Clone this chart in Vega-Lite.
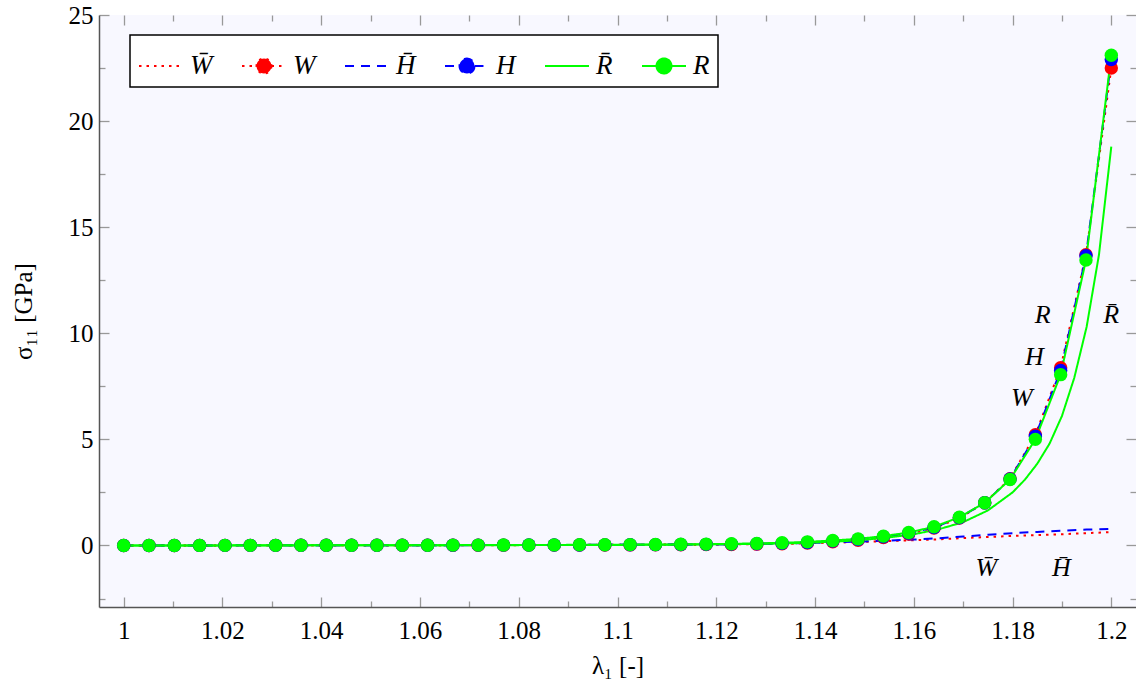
{
  "$schema": "https://vega.github.io/schema/vega-lite/v6.json",
  "width": 1037,
  "height": 592,
  "autosize": {"type": "none"},
  "padding": {"left": 99, "top": 15, "right": 0, "bottom": 86},
  "background": "white",
  "config": {
    "view": {"fill": "#f8f8ff", "stroke": null},
    "font": "Liberation Serif",
    "legend": {
      "orient": "none",
      "legendX": 31,
      "legendY": 20,
      "direction": "horizontal",
      "title": null,
      "labelFont": "Liberation Serif",
      "labelFontSize": 27,
      "labelFontStyle": "italic",
      "labelColor": "black",
      "symbolSize": 1936,
      "symbolStrokeWidth": 2,
      "labelOffset": 6,
      "columnPadding": 25,
      "padding": 8,
      "strokeColor": "black",
      "fillColor": "white",
      "cornerRadius": 0
    }
  },
  "datasets": {
    "main": [
      {"lam": 1, "sig": 0, "series": "W̄"},
      {"lam": 1.01, "sig": 0.002, "series": "W̄"},
      {"lam": 1.02, "sig": 0.004, "series": "W̄"},
      {"lam": 1.03, "sig": 0.006, "series": "W̄"},
      {"lam": 1.04, "sig": 0.008, "series": "W̄"},
      {"lam": 1.05, "sig": 0.01, "series": "W̄"},
      {"lam": 1.06, "sig": 0.013, "series": "W̄"},
      {"lam": 1.07, "sig": 0.017, "series": "W̄"},
      {"lam": 1.08, "sig": 0.021, "series": "W̄"},
      {"lam": 1.09, "sig": 0.026, "series": "W̄"},
      {"lam": 1.1, "sig": 0.033, "series": "W̄"},
      {"lam": 1.11, "sig": 0.042, "series": "W̄"},
      {"lam": 1.12, "sig": 0.055, "series": "W̄"},
      {"lam": 1.125, "sig": 0.065, "series": "W̄"},
      {"lam": 1.13, "sig": 0.078, "series": "W̄"},
      {"lam": 1.135, "sig": 0.095, "series": "W̄"},
      {"lam": 1.14, "sig": 0.115, "series": "W̄"},
      {"lam": 1.145, "sig": 0.14, "series": "W̄"},
      {"lam": 1.15, "sig": 0.17, "series": "W̄"},
      {"lam": 1.155, "sig": 0.21, "series": "W̄"},
      {"lam": 1.16, "sig": 0.25, "series": "W̄"},
      {"lam": 1.165, "sig": 0.29, "series": "W̄"},
      {"lam": 1.17, "sig": 0.35, "series": "W̄"},
      {"lam": 1.175, "sig": 0.4, "series": "W̄"},
      {"lam": 1.18, "sig": 0.45, "series": "W̄"},
      {"lam": 1.185, "sig": 0.49, "series": "W̄"},
      {"lam": 1.19, "sig": 0.53, "series": "W̄"},
      {"lam": 1.195, "sig": 0.58, "series": "W̄"},
      {"lam": 1.2, "sig": 0.63, "series": "W̄"},

      {"lam": 1, "sig": 0, "series": "W"},
      {"lam": 1.00513, "sig": 0.001, "series": "W"},
      {"lam": 1.01026, "sig": 0.002, "series": "W"},
      {"lam": 1.01538, "sig": 0.003, "series": "W"},
      {"lam": 1.02051, "sig": 0.004, "series": "W"},
      {"lam": 1.02564, "sig": 0.005, "series": "W"},
      {"lam": 1.03077, "sig": 0.006, "series": "W"},
      {"lam": 1.0359, "sig": 0.007, "series": "W"},
      {"lam": 1.04103, "sig": 0.008, "series": "W"},
      {"lam": 1.04615, "sig": 0.009, "series": "W"},
      {"lam": 1.05128, "sig": 0.01, "series": "W"},
      {"lam": 1.05641, "sig": 0.011, "series": "W"},
      {"lam": 1.06154, "sig": 0.012, "series": "W"},
      {"lam": 1.06667, "sig": 0.013, "series": "W"},
      {"lam": 1.07179, "sig": 0.014, "series": "W"},
      {"lam": 1.07692, "sig": 0.015, "series": "W"},
      {"lam": 1.08205, "sig": 0.017, "series": "W"},
      {"lam": 1.08718, "sig": 0.018, "series": "W"},
      {"lam": 1.09231, "sig": 0.02, "series": "W"},
      {"lam": 1.09744, "sig": 0.022, "series": "W"},
      {"lam": 1.10256, "sig": 0.026, "series": "W"},
      {"lam": 1.10769, "sig": 0.029, "series": "W"},
      {"lam": 1.11282, "sig": 0.034, "series": "W"},
      {"lam": 1.11795, "sig": 0.04, "series": "W"},
      {"lam": 1.12308, "sig": 0.048, "series": "W"},
      {"lam": 1.12821, "sig": 0.062, "series": "W"},
      {"lam": 1.13333, "sig": 0.08, "series": "W"},
      {"lam": 1.13846, "sig": 0.115, "series": "W"},
      {"lam": 1.14359, "sig": 0.175, "series": "W"},
      {"lam": 1.14872, "sig": 0.245, "series": "W"},
      {"lam": 1.15385, "sig": 0.37, "series": "W"},
      {"lam": 1.15897, "sig": 0.54, "series": "W"},
      {"lam": 1.1641, "sig": 0.82, "series": "W"},
      {"lam": 1.16923, "sig": 1.29, "series": "W"},
      {"lam": 1.17436, "sig": 2.01, "series": "W"},
      {"lam": 1.17949, "sig": 3.15, "series": "W"},
      {"lam": 1.18462, "sig": 5.22, "series": "W"},
      {"lam": 1.18974, "sig": 8.38, "series": "W"},
      {"lam": 1.19487, "sig": 13.7, "series": "W"},
      {"lam": 1.2, "sig": 22.5, "series": "W"},

      {"lam": 1, "sig": 0, "series": "H̄"},
      {"lam": 1.01, "sig": 0.002, "series": "H̄"},
      {"lam": 1.02, "sig": 0.004, "series": "H̄"},
      {"lam": 1.03, "sig": 0.006, "series": "H̄"},
      {"lam": 1.04, "sig": 0.008, "series": "H̄"},
      {"lam": 1.05, "sig": 0.01, "series": "H̄"},
      {"lam": 1.06, "sig": 0.013, "series": "H̄"},
      {"lam": 1.07, "sig": 0.017, "series": "H̄"},
      {"lam": 1.08, "sig": 0.021, "series": "H̄"},
      {"lam": 1.09, "sig": 0.026, "series": "H̄"},
      {"lam": 1.1, "sig": 0.033, "series": "H̄"},
      {"lam": 1.11, "sig": 0.043, "series": "H̄"},
      {"lam": 1.12, "sig": 0.057, "series": "H̄"},
      {"lam": 1.125, "sig": 0.068, "series": "H̄"},
      {"lam": 1.13, "sig": 0.082, "series": "H̄"},
      {"lam": 1.135, "sig": 0.1, "series": "H̄"},
      {"lam": 1.14, "sig": 0.125, "series": "H̄"},
      {"lam": 1.145, "sig": 0.155, "series": "H̄"},
      {"lam": 1.15, "sig": 0.19, "series": "H̄"},
      {"lam": 1.155, "sig": 0.235, "series": "H̄"},
      {"lam": 1.16, "sig": 0.28, "series": "H̄"},
      {"lam": 1.165, "sig": 0.34, "series": "H̄"},
      {"lam": 1.17, "sig": 0.42, "series": "H̄"},
      {"lam": 1.175, "sig": 0.51, "series": "H̄"},
      {"lam": 1.18, "sig": 0.58, "series": "H̄"},
      {"lam": 1.185, "sig": 0.64, "series": "H̄"},
      {"lam": 1.19, "sig": 0.7, "series": "H̄"},
      {"lam": 1.195, "sig": 0.75, "series": "H̄"},
      {"lam": 1.2, "sig": 0.78, "series": "H̄"},

      {"lam": 1, "sig": 0, "series": "H"},
      {"lam": 1.00513, "sig": 0.001, "series": "H"},
      {"lam": 1.01026, "sig": 0.002, "series": "H"},
      {"lam": 1.01538, "sig": 0.003, "series": "H"},
      {"lam": 1.02051, "sig": 0.004, "series": "H"},
      {"lam": 1.02564, "sig": 0.005, "series": "H"},
      {"lam": 1.03077, "sig": 0.006, "series": "H"},
      {"lam": 1.0359, "sig": 0.007, "series": "H"},
      {"lam": 1.04103, "sig": 0.008, "series": "H"},
      {"lam": 1.04615, "sig": 0.009, "series": "H"},
      {"lam": 1.05128, "sig": 0.011, "series": "H"},
      {"lam": 1.05641, "sig": 0.012, "series": "H"},
      {"lam": 1.06154, "sig": 0.013, "series": "H"},
      {"lam": 1.06667, "sig": 0.015, "series": "H"},
      {"lam": 1.07179, "sig": 0.016, "series": "H"},
      {"lam": 1.07692, "sig": 0.018, "series": "H"},
      {"lam": 1.08205, "sig": 0.02, "series": "H"},
      {"lam": 1.08718, "sig": 0.022, "series": "H"},
      {"lam": 1.09231, "sig": 0.025, "series": "H"},
      {"lam": 1.09744, "sig": 0.028, "series": "H"},
      {"lam": 1.10256, "sig": 0.033, "series": "H"},
      {"lam": 1.10769, "sig": 0.038, "series": "H"},
      {"lam": 1.11282, "sig": 0.044, "series": "H"},
      {"lam": 1.11795, "sig": 0.052, "series": "H"},
      {"lam": 1.12308, "sig": 0.063, "series": "H"},
      {"lam": 1.12821, "sig": 0.08, "series": "H"},
      {"lam": 1.13333, "sig": 0.1, "series": "H"},
      {"lam": 1.13846, "sig": 0.14, "series": "H"},
      {"lam": 1.14359, "sig": 0.205, "series": "H"},
      {"lam": 1.14872, "sig": 0.28, "series": "H"},
      {"lam": 1.15385, "sig": 0.41, "series": "H"},
      {"lam": 1.15897, "sig": 0.58, "series": "H"},
      {"lam": 1.1641, "sig": 0.85, "series": "H"},
      {"lam": 1.16923, "sig": 1.31, "series": "H"},
      {"lam": 1.17436, "sig": 2.01, "series": "H"},
      {"lam": 1.17949, "sig": 3.13, "series": "H"},
      {"lam": 1.18462, "sig": 5.15, "series": "H"},
      {"lam": 1.18974, "sig": 8.25, "series": "H"},
      {"lam": 1.19487, "sig": 13.65, "series": "H"},
      {"lam": 1.2, "sig": 22.9, "series": "H"},

      {"lam": 1, "sig": 0, "series": "R̄"},
      {"lam": 1.02, "sig": 0.002, "series": "R̄"},
      {"lam": 1.04, "sig": 0.005, "series": "R̄"},
      {"lam": 1.06, "sig": 0.009, "series": "R̄"},
      {"lam": 1.08, "sig": 0.016, "series": "R̄"},
      {"lam": 1.1, "sig": 0.027, "series": "R̄"},
      {"lam": 1.11, "sig": 0.037, "series": "R̄"},
      {"lam": 1.12, "sig": 0.052, "series": "R̄"},
      {"lam": 1.13, "sig": 0.08, "series": "R̄"},
      {"lam": 1.135, "sig": 0.1, "series": "R̄"},
      {"lam": 1.14, "sig": 0.14, "series": "R̄"},
      {"lam": 1.145, "sig": 0.19, "series": "R̄"},
      {"lam": 1.15, "sig": 0.27, "series": "R̄"},
      {"lam": 1.155, "sig": 0.38, "series": "R̄"},
      {"lam": 1.16, "sig": 0.53, "series": "R̄"},
      {"lam": 1.165, "sig": 0.76, "series": "R̄"},
      {"lam": 1.17, "sig": 1.1, "series": "R̄"},
      {"lam": 1.175, "sig": 1.65, "series": "R̄"},
      {"lam": 1.18, "sig": 2.5, "series": "R̄"},
      {"lam": 1.1825, "sig": 3.1, "series": "R̄"},
      {"lam": 1.185, "sig": 3.85, "series": "R̄"},
      {"lam": 1.1875, "sig": 4.8, "series": "R̄"},
      {"lam": 1.19, "sig": 6.1, "series": "R̄"},
      {"lam": 1.1925, "sig": 7.9, "series": "R̄"},
      {"lam": 1.195, "sig": 10.3, "series": "R̄"},
      {"lam": 1.1975, "sig": 13.7, "series": "R̄"},
      {"lam": 1.2, "sig": 18.8, "series": "R̄"},

      {"lam": 1, "sig": 0, "series": "R"},
      {"lam": 1.00513, "sig": 0.001, "series": "R"},
      {"lam": 1.01026, "sig": 0.002, "series": "R"},
      {"lam": 1.01538, "sig": 0.003, "series": "R"},
      {"lam": 1.02051, "sig": 0.004, "series": "R"},
      {"lam": 1.02564, "sig": 0.005, "series": "R"},
      {"lam": 1.03077, "sig": 0.006, "series": "R"},
      {"lam": 1.0359, "sig": 0.007, "series": "R"},
      {"lam": 1.04103, "sig": 0.008, "series": "R"},
      {"lam": 1.04615, "sig": 0.009, "series": "R"},
      {"lam": 1.05128, "sig": 0.011, "series": "R"},
      {"lam": 1.05641, "sig": 0.012, "series": "R"},
      {"lam": 1.06154, "sig": 0.014, "series": "R"},
      {"lam": 1.06667, "sig": 0.016, "series": "R"},
      {"lam": 1.07179, "sig": 0.018, "series": "R"},
      {"lam": 1.07692, "sig": 0.02, "series": "R"},
      {"lam": 1.08205, "sig": 0.023, "series": "R"},
      {"lam": 1.08718, "sig": 0.026, "series": "R"},
      {"lam": 1.09231, "sig": 0.03, "series": "R"},
      {"lam": 1.09744, "sig": 0.034, "series": "R"},
      {"lam": 1.10256, "sig": 0.04, "series": "R"},
      {"lam": 1.10769, "sig": 0.046, "series": "R"},
      {"lam": 1.11282, "sig": 0.054, "series": "R"},
      {"lam": 1.11795, "sig": 0.064, "series": "R"},
      {"lam": 1.12308, "sig": 0.078, "series": "R"},
      {"lam": 1.12821, "sig": 0.098, "series": "R"},
      {"lam": 1.13333, "sig": 0.125, "series": "R"},
      {"lam": 1.13846, "sig": 0.17, "series": "R"},
      {"lam": 1.14359, "sig": 0.235, "series": "R"},
      {"lam": 1.14872, "sig": 0.31, "series": "R"},
      {"lam": 1.15385, "sig": 0.44, "series": "R"},
      {"lam": 1.15897, "sig": 0.61, "series": "R"},
      {"lam": 1.1641, "sig": 0.88, "series": "R"},
      {"lam": 1.16923, "sig": 1.33, "series": "R"},
      {"lam": 1.17436, "sig": 2.01, "series": "R"},
      {"lam": 1.17949, "sig": 3.11, "series": "R"},
      {"lam": 1.18462, "sig": 5.0, "series": "R"},
      {"lam": 1.18974, "sig": 8.05, "series": "R"},
      {"lam": 1.19487, "sig": 13.45, "series": "R"},
      {"lam": 1.2, "sig": 23.1, "series": "R"}
    ],
    "labels": [
      {"lam": 1.1861, "sig": 10.85, "t": "R"},
      {"lam": 1.1844, "sig": 8.9, "t": "H"},
      {"lam": 1.1819, "sig": 6.93, "t": "W"},
      {"lam": 1.2, "sig": 10.85, "t": "R̄"},
      {"lam": 1.1747, "sig": -1.08, "t": "W̄"},
      {"lam": 1.1899, "sig": -1.08, "t": "H̄"}
    ]
  },
  "resolve": {"axis": {"x": "independent", "y": "independent"}},
  "layer": [
    {
      "data": {"name": "main"},
      "mark": {"type": "line", "strokeWidth": 2},
      "encoding": {
        "x": {
          "field": "lam", "type": "quantitative",
          "scale": {"domain": [0.995, 1.205], "nice": false, "zero": false},
          "axis": {
            "orient": "bottom",
            "values": [1, 1.01, 1.02, 1.03, 1.04, 1.05, 1.06, 1.07, 1.08, 1.09, 1.1, 1.11, 1.12, 1.13, 1.14, 1.15, 1.16, 1.17, 1.18, 1.19, 1.2],
            "format": "~g",
            "labelExpr": "round(datum.value*100) % 2 === 0 ? datum.label : ''",
            "tickSize": {"condition": {"test": "round(datum.value*100) % 2 === 0", "value": -10}, "value": -6},
            "labelPadding": 21,
            "labelFlush": false,
            "labelOverlap": false,
            "labelFontSize": 25,
            "labelColor": "black",
            "labelFont": "Liberation Serif",
            "title": "λ₁ [-]",
            "titleFont": "Liberation Serif",
            "titleFontSize": 25,
            "titleFontWeight": "normal",
            "titleColor": "black",
            "titlePadding": 6,
            "grid": false,
            "domainColor": "#555555",
            "domainWidth": 1.5,
            "tickColor": "#999999",
            "tickWidth": 1.3
          }
        },
        "y": {
          "field": "sig", "type": "quantitative",
          "scale": {"domain": [-2.9, 25], "nice": false, "zero": false},
          "axis": {
            "orient": "left",
            "values": [-2.5, 0, 2.5, 5, 7.5, 10, 12.5, 15, 17.5, 20, 22.5, 25],
            "format": "~g",
            "labelExpr": "datum.value % 5 === 0 ? datum.label : ''",
            "tickSize": {"condition": {"test": "datum.value % 5 === 0", "value": -10}, "value": -6},
            "labelPadding": 16,
            "labelFlush": false,
            "labelOverlap": false,
            "labelFontSize": 25,
            "labelColor": "black",
            "labelFont": "Liberation Serif",
            "title": "σ₁₁ [GPa]",
            "titleFont": "Liberation Serif",
            "titleFontSize": 25,
            "titleFontWeight": "normal",
            "titleColor": "black",
            "titlePadding": 32,
            "grid": false,
            "domainColor": "#555555",
            "domainWidth": 1.5,
            "tickColor": "#999999",
            "tickWidth": 1.3
          }
        },
        "color": {
          "field": "series", "type": "nominal",
          "scale": {
            "domain": ["W̄", "W", "H̄", "H", "R̄", "R"],
            "range": ["#ff0000", "#ff0000", "#0000ff", "#0000ff", "#00ff00", "#00ff00"]
          },
          "legend": {
            "encode": {
              "symbols": {
                "update": {
                  "shape": {"signal": "indexof(['W','H','R'], datum.value) >= 0 ? 'M-1,0L-0.34,0M0.34,0L1,0M0.34,0A0.34,0.34,0,1,1,-0.34,0A0.34,0.34,0,1,1,0.34,0' : 'M-1,0L1,0'"},
                  "fill": [
                    {"test": "indexof(['W','H','R'], datum.value) >= 0", "scale": "color", "field": "value"},
                    {"value": "transparent"}
                  ]
                }
              },
              "legend": {"update": {"strokeWidth": {"value": 1.5}}}
            }
          }
        },
        "strokeDash": {
          "field": "series", "type": "nominal",
          "scale": {
            "domain": ["W̄", "W", "H̄", "H", "R̄", "R"],
            "range": [[2.5, 5], [2.5, 5], [9, 7], [9, 7], [1, 0], [1, 0]]
          }
        }
      }
    },
    {
      "data": {"name": "main"},
      "transform": [{"filter": "indexof(['W','H','R'], datum.series) >= 0"}],
      "mark": {"type": "point", "filled": true, "shape": "circle", "size": 180, "opacity": 1},
      "encoding": {
        "x": {
          "field": "lam", "type": "quantitative",
          "scale": {"domain": [0.995, 1.205], "nice": false, "zero": false},
          "axis": {
            "orient": "top",
            "values": [1, 1.01, 1.02, 1.03, 1.04, 1.05, 1.06, 1.07, 1.08, 1.09, 1.1, 1.11, 1.12, 1.13, 1.14, 1.15, 1.16, 1.17, 1.18, 1.19, 1.2],
            "labels": false,
            "domain": false,
            "title": null,
            "grid": false,
            "tickSize": {"condition": {"test": "round(datum.value*100) % 2 === 0", "value": -10}, "value": -6},
            "tickColor": "#999999",
            "tickWidth": 1.3
          }
        },
        "y": {
          "field": "sig", "type": "quantitative",
          "scale": {"domain": [-2.9, 25], "nice": false, "zero": false},
          "axis": {
            "orient": "right",
            "values": [-2.5, 0, 2.5, 5, 7.5, 10, 12.5, 15, 17.5, 20, 22.5, 25],
            "labels": false,
            "domain": false,
            "title": null,
            "grid": false,
            "tickSize": {"condition": {"test": "datum.value % 5 === 0", "value": -10}, "value": -6},
            "tickColor": "#999999",
            "tickWidth": 1.3
          }
        },
        "color": {
          "field": "series", "type": "nominal",
          "scale": {
            "domain": ["W̄", "W", "H̄", "H", "R̄", "R"],
            "range": ["#ff0000", "#ff0000", "#0000ff", "#0000ff", "#00ff00", "#00ff00"]
          },
          "legend": null
        }
      }
    },
    {
      "data": {"name": "labels"},
      "mark": {"type": "text", "font": "Liberation Serif", "fontStyle": "italic", "fontSize": 26, "align": "center", "baseline": "middle", "color": "black"},
      "encoding": {
        "x": {"field": "lam", "type": "quantitative", "axis": null},
        "y": {"field": "sig", "type": "quantitative", "axis": null},
        "text": {"field": "t", "type": "nominal"}
      }
    }
  ]
}
